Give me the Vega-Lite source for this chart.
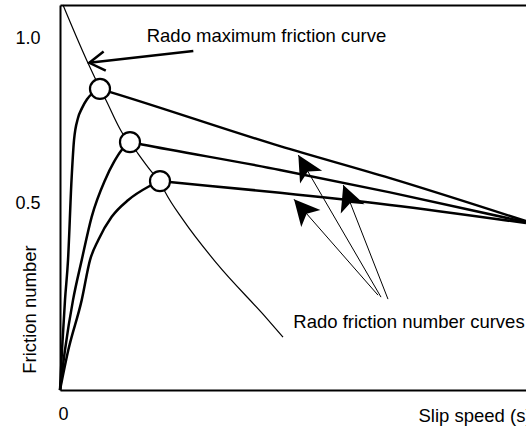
{
  "$schema": "https://vega.github.io/schema/vega-lite/v6.json",
  "width": 466,
  "height": 385,
  "autosize": {"type": "none"},
  "padding": {"left": 60, "top": 5, "right": 0, "bottom": 38},
  "background": "white",
  "config": {
    "view": {"stroke": null},
    "axis": {
      "grid": false, "ticks": false, "tickSize": 0,
      "domainColor": "black", "domainWidth": 2,
      "labelColor": "black", "labelFont": "Liberation Sans", "labelFontSize": 18,
      "titleColor": "black", "titleFont": "Liberation Sans", "titleFontSize": 18.5, "titleFontWeight": "normal"
    }
  },
  "datasets": {
    "curves": [
      {"series": "c1", "x": 0, "y": 0},
      {"series": "c1", "x": 0.42, "y": 0.121},
      {"series": "c1", "x": 1.04, "y": 0.272},
      {"series": "c1", "x": 1.67, "y": 0.393},
      {"series": "c1", "x": 2.4, "y": 0.635},
      {"series": "c1", "x": 2.92, "y": 0.756},
      {"series": "c1", "x": 3.75, "y": 0.823},
      {"series": "c1", "x": 4.58, "y": 0.853},
      {"series": "c1", "x": 5.63, "y": 0.88},
      {"series": "c1", "x": 6.88, "y": 0.899},
      {"series": "c1", "x": 8.33, "y": 0.911},
      {"series": "c1", "x": 10.83, "y": 0.9},
      {"series": "c1", "x": 45.83, "y": 0.738},
      {"series": "c1", "x": 68.75, "y": 0.641},
      {"series": "c1", "x": 97.08, "y": 0.511},
      {"series": "c2", "x": 0, "y": 0},
      {"series": "c2", "x": 1.04, "y": 0.121},
      {"series": "c2", "x": 2.71, "y": 0.272},
      {"series": "c2", "x": 4.52, "y": 0.393},
      {"series": "c2", "x": 6.6, "y": 0.524},
      {"series": "c2", "x": 9.375, "y": 0.635},
      {"series": "c2", "x": 11.25, "y": 0.69},
      {"series": "c2", "x": 12.85, "y": 0.726},
      {"series": "c2", "x": 14.58, "y": 0.75},
      {"series": "c2", "x": 17.08, "y": 0.743},
      {"series": "c2", "x": 45.83, "y": 0.666},
      {"series": "c2", "x": 68.75, "y": 0.598},
      {"series": "c2", "x": 97.08, "y": 0.508},
      {"series": "c3", "x": 0, "y": 0},
      {"series": "c3", "x": 1.73, "y": 0.121},
      {"series": "c3", "x": 4.52, "y": 0.272},
      {"series": "c3", "x": 6.25, "y": 0.393},
      {"series": "c3", "x": 7.98, "y": 0.454},
      {"series": "c3", "x": 10.77, "y": 0.524},
      {"series": "c3", "x": 14.23, "y": 0.575},
      {"series": "c3", "x": 18.4, "y": 0.615},
      {"series": "c3", "x": 20.83, "y": 0.632},
      {"series": "c3", "x": 23.33, "y": 0.6285},
      {"series": "c3", "x": 45.83, "y": 0.597},
      {"series": "c3", "x": 68.75, "y": 0.56},
      {"series": "c3", "x": 97.08, "y": 0.505},
      {"series": "rado", "x": 0.625, "y": 1.165},
      {"series": "rado", "x": 5.56, "y": 0.998},
      {"series": "rado", "x": 7.29, "y": 0.944},
      {"series": "rado", "x": 8.33, "y": 0.912},
      {"series": "rado", "x": 9.375, "y": 0.883},
      {"series": "rado", "x": 13.54, "y": 0.766},
      {"series": "rado", "x": 14.58, "y": 0.75},
      {"series": "rado", "x": 15.98, "y": 0.721},
      {"series": "rado", "x": 19.1, "y": 0.66},
      {"series": "rado", "x": 20.83, "y": 0.631},
      {"series": "rado", "x": 21.875, "y": 0.6},
      {"series": "rado", "x": 25.69, "y": 0.514},
      {"series": "rado", "x": 32.65, "y": 0.383},
      {"series": "rado", "x": 43.06, "y": 0.217},
      {"series": "rado", "x": 46.46, "y": 0.16}
    ],
    "peaks": [
      {"x": 8.33, "y": 0.911},
      {"x": 14.58, "y": 0.75},
      {"x": 20.83, "y": 0.632}
    ],
    "arrows": [
      {"arrow": "max", "end": "start", "x": 27.77, "y": 1.026},
      {"arrow": "max", "end": "tip", "x": 6.1, "y": 0.99},
      {"arrow": "A", "end": "start", "x": 66.875, "y": 0.281},
      {"arrow": "A", "end": "tip", "x": 49.65, "y": 0.711},
      {"arrow": "B", "end": "start", "x": 68.33, "y": 0.275},
      {"arrow": "B", "end": "tip", "x": 59.02, "y": 0.62},
      {"arrow": "C", "end": "start", "x": 66.25, "y": 0.287},
      {"arrow": "C", "end": "tip", "x": 48.75, "y": 0.577}
    ],
    "labels": [
      {"text": "Rado maximum friction curve", "x": 18.06, "y": 1.054},
      {"text": "Rado friction number curves", "x": 48.6, "y": 0.187}
    ]
  },
  "encoding": {
    "x": {"field": "x", "type": "quantitative", "scale": {"domain": [0, 97.08], "nice": false, "zero": false}, "axis": null},
    "y": {
      "field": "y", "type": "quantitative",
      "scale": {"domain": [0, 1.165], "nice": false, "zero": false},
      "axis": {
        "values": [0.5, 1.0], "format": ".1f",
        "labelPadding": 20, "labelOffset": -21, "labelAlign": "right", "labelBaseline": "middle",
        "title": "Friction number", "titleAngle": -90, "titleX": -25, "titleY": 304,
        "titleAlign": "center", "titleBaseline": "alphabetic"
      }
    }
  },
  "layer": [
    {
      "data": {"name": "curves"},
      "transform": [{"filter": "datum.series !== 'rado'"}],
      "mark": {"type": "line", "color": "black", "strokeWidth": 2.5, "interpolate": "monotone"},
      "encoding": {
        "x": {
          "field": "x", "type": "quantitative",
          "scale": {"domain": [0, 97.08], "nice": false, "zero": false},
          "axis": {
            "orient": "bottom", "values": [0], "format": "d", "labelFlush": false,
            "labelOffset": 3, "labelPadding": 15, "labelBaseline": "top",
            "title": "Slip speed (s)", "titleX": 358, "titleY": 31,
            "titleAlign": "left", "titleBaseline": "alphabetic"
          }
        },
        "detail": {"field": "series"}
      }
    },
    {
      "data": {"name": "curves"},
      "transform": [{"filter": "datum.series === 'rado'"}],
      "mark": {"type": "line", "color": "black", "strokeWidth": 1.2, "interpolate": "monotone"},
      "encoding": {}
    },
    {
      "data": {"name": "arrows"},
      "transform": [{"filter": "datum.arrow === 'max'"}],
      "mark": {"type": "line", "color": "black", "strokeWidth": 2.5},
      "encoding": {}
    },
    {
      "data": {"name": "arrows"},
      "transform": [{"filter": "datum.arrow !== 'max'"}],
      "mark": {"type": "line", "color": "black", "strokeWidth": 1},
      "encoding": {"detail": {"field": "arrow"}}
    },
    {
      "data": {"name": "arrows"},
      "transform": [{"filter": "datum.arrow === 'max' && datum.end === 'tip'"}],
      "mark": {"type": "point", "shape": "M1,1.6 L0,0 L-1,1.6", "size": 376, "angle": 263.6, "filled": false, "color": "black", "strokeWidth": 2.5, "opacity": 1}
    },
    {
      "data": {"name": "arrows"},
      "transform": [{"filter": "datum.arrow === 'A' && datum.end === 'tip'"}],
      "mark": {"type": "point", "shape": "M0,0 L1,2 L0,1.5 L-1,2 Z", "size": 650, "angle": 330, "filled": true, "color": "black", "opacity": 1}
    },
    {
      "data": {"name": "arrows"},
      "transform": [{"filter": "datum.arrow === 'B' && datum.end === 'tip'"}],
      "mark": {"type": "point", "shape": "M0,0 L1,2 L0,1.5 L-1,2 Z", "size": 650, "angle": 338.6, "filled": true, "color": "black", "opacity": 1}
    },
    {
      "data": {"name": "arrows"},
      "transform": [{"filter": "datum.arrow === 'C' && datum.end === 'tip'"}],
      "mark": {"type": "point", "shape": "M0,0 L1,2 L0,1.5 L-1,2 Z", "size": 650, "angle": 318.7, "filled": true, "color": "black", "opacity": 1}
    },
    {
      "data": {"name": "peaks"},
      "mark": {"type": "point", "shape": "circle", "size": 400, "filled": true, "fill": "white", "stroke": "black", "strokeWidth": 2.2, "opacity": 1},
      "encoding": {
        "x": {
          "field": "x", "type": "quantitative",
          "scale": {"domain": [0, 97.08], "nice": false, "zero": false},
          "axis": {"orient": "top", "labels": false, "ticks": false, "title": null, "domain": true}
        }
      }
    },
    {
      "data": {"name": "labels"},
      "mark": {"type": "text", "align": "left", "baseline": "alphabetic", "font": "Liberation Sans", "fontSize": 18.5, "color": "black"},
      "encoding": {"text": {"field": "text"}}
    }
  ],
  "resolve": {"axis": {"x": "independent"}}
}
